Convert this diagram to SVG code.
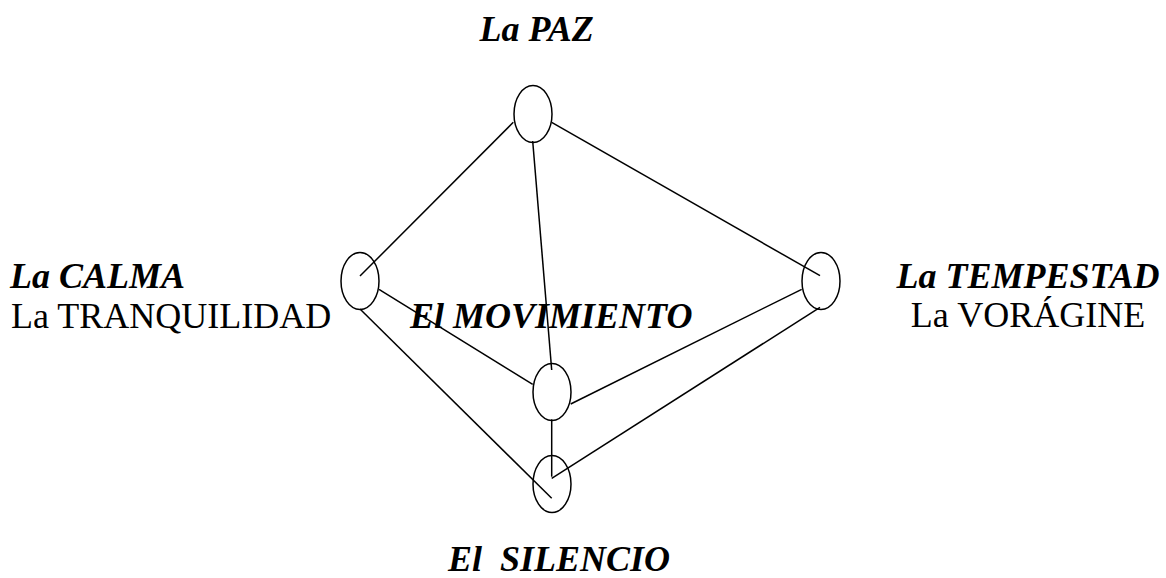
<svg xmlns="http://www.w3.org/2000/svg" width="1166" height="578" viewBox="0 0 1166 578">
<style>
.node ellipse{fill:none;stroke:#000;stroke-width:1.5}
#connectors line{stroke:#000;stroke-width:1.5}
.t{font-family:"Liberation Serif";font-size:36px;fill:#000}
.bi{font-weight:bold;font-style:italic}
</style>
<rect width="1166" height="578" fill="#fff"/>
<g id="connectors">
<line x1="513.3" y1="122.3" x2="360" y2="276"/>
<line x1="532.7" y1="141" x2="551.7" y2="370"/>
<line x1="551.7" y1="122.3" x2="820" y2="275.7"/>
<line x1="379" y1="289.3" x2="532.7" y2="384.3"/>
<line x1="360" y1="309" x2="551.7" y2="498.3"/>
<line x1="551.7" y1="419.3" x2="551.7" y2="476.7"/>
<line x1="801.7" y1="289.3" x2="570.7" y2="404"/>
<line x1="820" y1="307.3" x2="551.7" y2="478.3"/>
</g>
<g id="paz" class="node">
<ellipse cx="533" cy="114" rx="19" ry="28.5"/>
<text class="t bi" x="536.7" y="41" text-anchor="middle">La PAZ</text>
</g>
<g id="calma" class="node">
<ellipse cx="360" cy="281" rx="19" ry="28.5"/>
<text class="t bi" x="10" y="288">La CALMA</text>
<text class="t" x="11" y="328">La TRANQUILIDAD</text>
</g>
<g id="tempestad" class="node">
<ellipse cx="821" cy="281" rx="19" ry="28.5"/>
<text class="t bi" x="1028" y="288" text-anchor="middle">La TEMPESTAD</text>
<text class="t" x="1028" y="327" text-anchor="middle">La VORÁGINE</text>
</g>
<g id="movimiento" class="node">
<ellipse cx="552" cy="392" rx="19" ry="28.5"/>
<text class="t bi" x="410" y="328">El MOVIMIENTO</text>
</g>
<g id="silencio" class="node">
<ellipse cx="552" cy="484" rx="19" ry="28.5"/>
<text class="t bi" x="448" y="571" xml:space="preserve">El  SILENCIO</text>
</g>
</svg>
